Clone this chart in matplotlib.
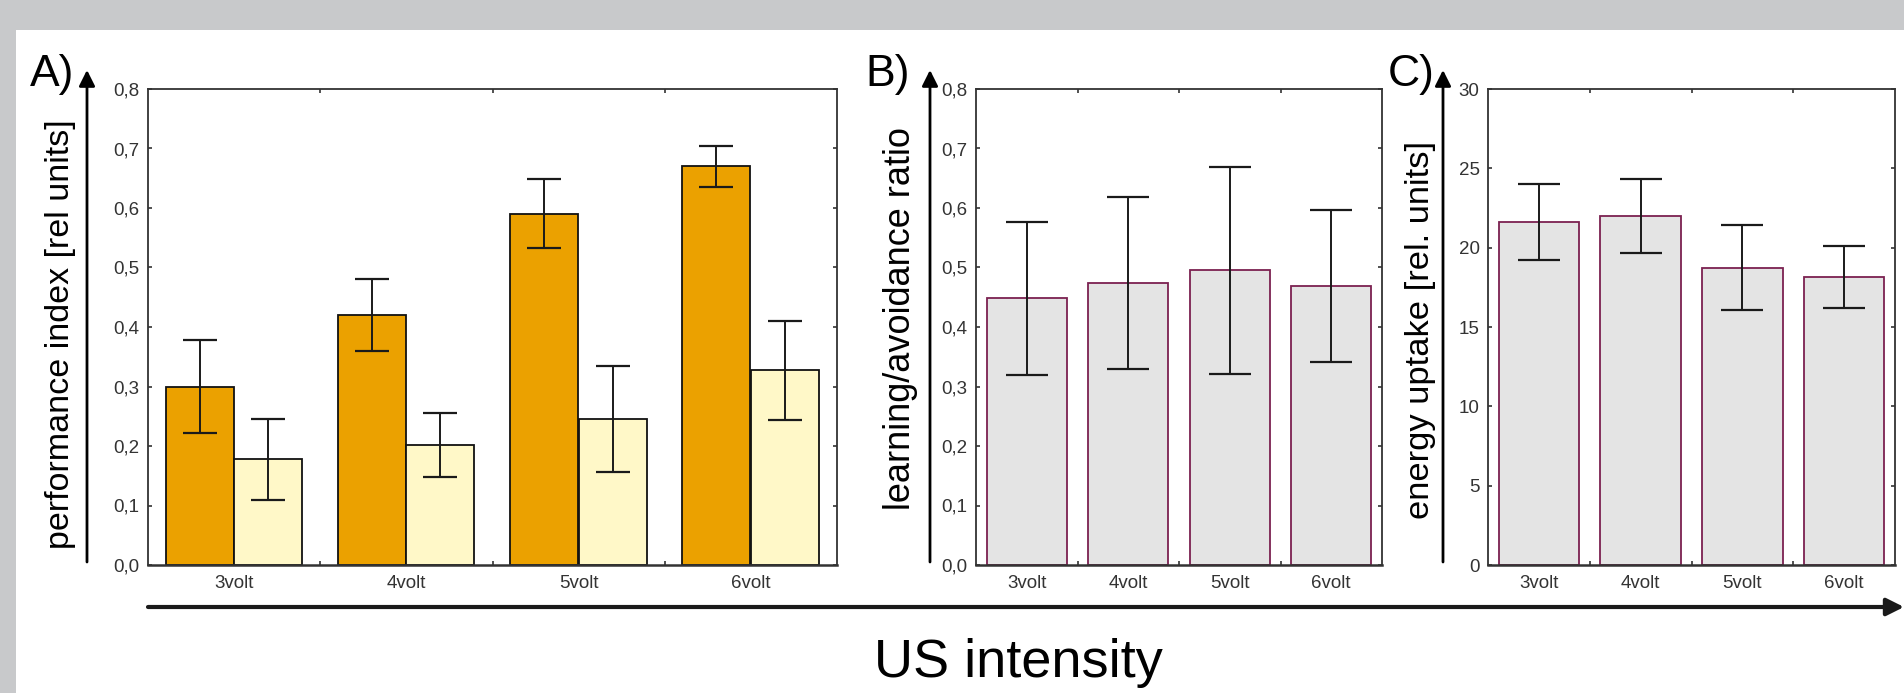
import numpy as np
import matplotlib
matplotlib.use("Agg")
import matplotlib.pyplot as plt
from matplotlib.patches import Rectangle
from matplotlib.ticker import FuncFormatter, FixedLocator, MultipleLocator

plt.rcParams['font.family'] = ['Liberation Sans', 'DejaVu Sans']

# data
categories = ['3volt', '4volt', '5volt', '6volt']
pi_trained = [0.30, 0.42, 0.59, 0.67]
pi_trained_err = [0.078, 0.061, 0.058, 0.035]
pi_control = [0.178, 0.202, 0.245, 0.327]
pi_control_err = [0.068, 0.054, 0.089, 0.083]
ratio = [0.448, 0.474, 0.495, 0.469]
ratio_err = [0.129, 0.145, 0.174, 0.128]
energy = [21.6, 22.0, 18.75, 18.15]
energy_err = [2.4, 2.33, 2.68, 1.93]

W, H = 1904, 693
fig = plt.figure(figsize=(W / 100, H / 100), dpi=100, facecolor='#c8c9cb')

# background layer in pixel coordinates (white panel, arrows, labels)
bg = fig.add_axes([0, 0, 1, 1], zorder=-5)
bg.set_xlim(0, W)
bg.set_ylim(H, 0)
bg.axis('off')
bg.add_patch(Rectangle((16, 30), W - 16, H - 30, facecolor='white', edgecolor='none'))


def box(x0, x1, top=89, bottom=565):
    return [x0 / W, (H - bottom) / H, (x1 - x0) / W, (bottom - top) / H]


def comma(v, pos):
    return f"{v:.1f}".replace('.', ',')


def style(ax, ymax, step, fmt):
    ax.set_xlim(-0.5, 3.5)
    ax.set_ylim(0, ymax)
    ax.set_xticks(range(len(categories)))
    ax.set_xticklabels(categories)
    ax.tick_params(axis='x', which='major', length=0, pad=7, labelsize=13.5, labelcolor='#333333')
    ax.xaxis.set_minor_locator(FixedLocator([0.5, 1.5, 2.5]))
    ax.tick_params(axis='x', which='minor', direction='in', top=True, bottom=True,
                   length=3, width=1.2, color='#333333')
    ax.yaxis.set_major_locator(MultipleLocator(step))
    ax.yaxis.set_major_formatter(FuncFormatter(fmt))
    ax.tick_params(axis='y', direction='in', right=True, length=3, width=1.2, pad=6,
                   labelsize=13.5, labelcolor='#333333', color='#333333')
    for s in ax.spines.values():
        s.set_color('#333333')
        s.set_linewidth(1.3)
    ax.spines['bottom'].set_linewidth(1.8)


x = np.arange(len(categories))
err_kw = dict(fmt='none', ecolor='#1a1a1a', elinewidth=1.4, capthick=1.6, zorder=4)

# ---- A) performance index ----
axA = fig.add_axes(box(148, 837))
axA.bar(x - 0.2, pi_trained, 0.395, color='#eba100', edgecolor='#111111', linewidth=1.3, zorder=2)
axA.bar(x + 0.198, pi_control, 0.395, color='#fff8c8', edgecolor='#111111', linewidth=1.3, zorder=2)
axA.errorbar(x - 0.2, pi_trained, yerr=pi_trained_err, capsize=12, **err_kw)
axA.errorbar(x + 0.198, pi_control, yerr=pi_control_err, capsize=12, **err_kw)
style(axA, 0.8, 0.1, comma)

# ---- B) learning/avoidance ratio ----
axB = fig.add_axes(box(976, 1382))
axB.bar(x, ratio, 0.79, color='#e4e4e4', edgecolor='#7b2150', linewidth=1.3, zorder=2)
axB.errorbar(x, ratio, yerr=ratio_err, capsize=15, **err_kw)
style(axB, 0.8, 0.1, comma)

# ---- C) energy uptake ----
axC = fig.add_axes(box(1488, 1895))
axC.bar(x, energy, 0.79, color='#e4e4e4', edgecolor='#7b2150', linewidth=1.3, zorder=2)
axC.errorbar(x, energy, yerr=energy_err, capsize=15, **err_kw)
style(axC, 30, 5, lambda v, p: f"{v:.0f}")

# panel letters, y arrows and labels
arrow = dict(arrowstyle='-|>', color='black', lw=2, mutation_scale=24, shrinkA=0, shrinkB=0)
for letter, lx, ax_x, lab_x, lab_y, lab_size, label in [
        ('A)', 30, 87, 61, 334, 24.5, 'performance index [rel units]'),
        ('B)', 865, 930, 901, 318, 26, 'learning/avoidance ratio'),
        ('C)', 1388, 1443, 1421, 330, 24.8, 'energy uptake [rel. units]')]:
    bg.text(lx, 86, letter, fontsize=32, va='baseline', ha='left')
    bg.annotate('', xy=(ax_x, 70), xytext=(ax_x, 562), arrowprops=arrow)
    bg.text(lab_x, lab_y, label, rotation=90, ha='center', va='center', fontsize=lab_size)

# common x arrow
bg.annotate('', xy=(1904, 607), xytext=(148, 607),
            arrowprops=dict(arrowstyle='-|>', color='#1a1a1a', lw=3, mutation_scale=26,
                            shrinkA=0, shrinkB=0))
bg.text(1018, 677, 'US intensity', fontsize=39, ha='center', va='baseline')

fig.savefig('out.png', dpi=100, facecolor=fig.get_facecolor())
